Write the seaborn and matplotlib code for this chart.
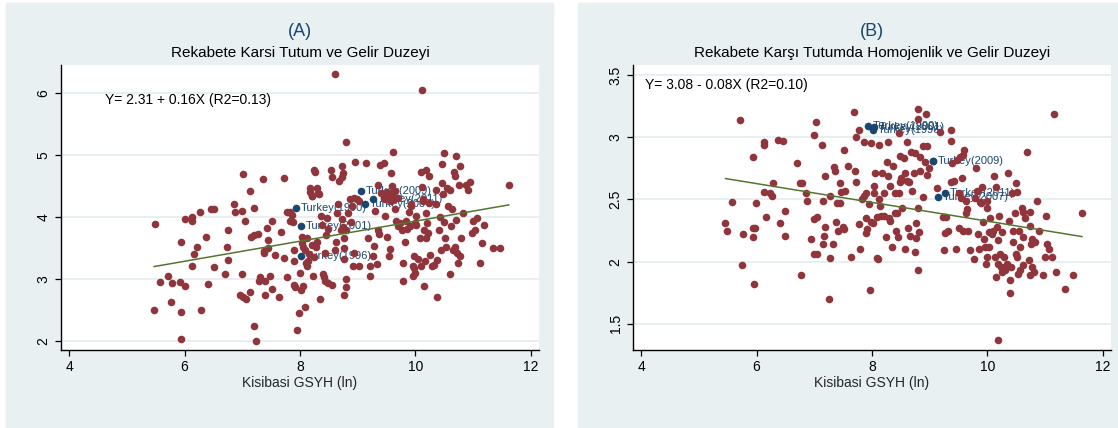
import numpy as np
import pandas as pd
import seaborn as sns
import matplotlib.pyplot as plt
from matplotlib.patches import Rectangle

# ---------------- data ----------------
# Panel A: Rekabete Karsi Tutum vs. log GDP per capita
a_x = [5.48, 5.47, 5.72, 5.58, 5.78, 5.76, 5.94, 5.94, 5.94, 6.00, 6.00, 5.93, 6.13, 6.13,
       6.16, 6.13, 6.22, 6.26, 6.28, 6.38, 6.40, 6.46, 6.51, 6.51, 6.70, 6.74, 6.76, 6.76,
       6.86, 6.87, 6.96, 6.99, 6.99, 7.02, 7.05, 7.01, 7.06, 7.14, 7.14, 7.15, 7.20, 7.20,
       7.24, 7.21, 7.27, 7.30, 7.29, 7.36, 7.37, 7.38, 7.39, 7.39, 7.43, 7.44, 7.45, 7.48,
       7.51, 7.51, 7.57, 7.63, 7.67, 7.73, 7.72, 7.77, 7.78, 7.83, 7.83, 7.86, 7.88, 7.89,
       7.90, 7.90, 7.91, 7.95, 7.99, 8.00, 8.01, 8.05, 8.08, 8.03, 8.04, 8.08, 8.10, 8.12,
       8.12, 8.14, 8.17, 8.17, 8.20, 8.21, 8.25, 8.26, 8.28, 8.30, 8.31, 8.33, 8.22, 8.35,
       8.37, 8.38, 8.40, 8.41, 8.43, 8.44, 8.45, 8.47, 8.48, 8.49, 8.55, 8.54, 8.55, 8.61,
       8.61, 8.62, 8.64, 8.66, 8.67, 8.71, 8.73, 8.73, 8.75, 8.73, 8.74, 8.76, 8.76, 8.77,
       8.77, 8.79, 8.79, 8.80, 8.80, 8.84, 8.87, 8.88, 8.90, 8.92, 8.93, 8.94, 8.96, 8.99,
       9.02, 9.02, 9.15, 9.18, 9.21, 9.22, 9.27, 9.29, 9.30, 9.33, 9.35, 9.35, 9.36, 9.39,
       9.41, 9.45, 9.47, 9.48, 9.48, 9.51, 9.54, 9.56, 9.58, 9.60, 9.61, 9.61, 9.62, 9.64,
       9.67, 9.70, 9.73, 9.76, 9.79, 9.79, 9.82, 9.84, 9.89, 9.92, 9.93, 9.95, 9.95, 9.97,
       9.98, 10.00, 10.01, 10.01, 10.05, 10.07, 10.09, 10.10, 10.11, 10.12, 10.13, 10.13,
       10.15, 10.15, 10.16, 10.18, 10.18, 10.19, 10.20, 10.21, 10.23, 10.24, 10.26, 10.29,
       10.32, 10.35, 10.36, 10.37, 10.38, 10.41, 10.42, 10.44, 10.46, 10.46, 10.48, 10.49,
       10.50, 10.52, 10.53, 10.55, 10.57, 10.59, 10.60, 10.61, 10.63, 10.65, 10.66, 10.68,
       10.69, 10.71, 10.71, 10.72, 10.73, 10.75, 10.77, 10.78, 10.79, 10.83, 10.87, 10.91,
       10.94, 10.98, 11.00, 11.03, 11.06, 11.11, 11.16, 11.18, 11.34, 11.46, 11.62,
       9.50, 9.55, 9.65, 9.70, 9.45, 9.58, 8.06, 8.15, 8.20, 8.25, 8.30, 9.85, 9.90, 10.00]
a_y = [3.89, 2.49, 3.05, 2.94, 2.93, 2.62, 2.47, 2.02, 3.59, 3.96, 2.88, 2.94, 4.00, 3.93,
       3.40, 3.21, 3.51, 4.07, 2.50, 3.67, 2.92, 4.13, 4.13, 3.19, 3.08, 3.52, 3.78, 3.31,
       4.20, 4.07, 2.73, 4.10, 3.07, 4.69, 3.94, 2.70, 2.68, 4.41, 2.78, 3.67, 4.14, 2.23,
       2.00, 3.71, 3.72, 3.03, 2.97, 4.61, 3.45, 3.42, 2.74, 2.96, 3.82, 3.63, 3.50, 3.04,
       3.93, 2.83, 3.39, 2.70, 3.75, 4.62, 3.33, 3.03, 4.07, 3.94, 4.08, 4.03, 3.91, 3.47,
       3.28, 2.90, 2.87, 2.17, 2.45, 3.10, 2.82, 2.88, 2.54, 3.67, 3.58, 3.46, 3.25, 3.20,
       3.65, 3.29, 4.47, 4.40, 4.33, 4.33, 4.76, 4.72, 3.52, 4.47, 4.39, 4.36, 3.05, 2.68,
       4.01, 3.87, 3.08, 3.03, 2.96, 3.42, 3.70, 3.98, 3.80, 2.93, 2.90, 4.76, 4.64, 6.30,
       3.46, 3.59, 4.06, 4.21, 4.57, 3.78, 4.82, 4.64, 4.71, 3.96, 3.84, 3.66, 3.49, 3.32,
       2.73, 2.99, 2.87, 5.20, 3.79, 4.06, 4.28, 3.91, 4.17, 3.20, 3.42, 4.30, 4.89, 4.28,
       4.25, 3.20, 4.87, 3.65, 3.04, 3.20, 3.36, 3.53, 4.10, 3.24, 4.52, 3.79, 3.73, 4.84,
       4.38, 4.87, 4.02, 4.33, 4.28, 3.68, 3.36, 3.48, 4.71, 4.49, 5.04, 4.38, 4.28, 4.12,
       3.93, 3.85, 3.90, 3.79, 3.25, 2.96, 3.60, 3.94, 4.07, 4.21, 4.17, 3.20, 3.04, 3.17,
       3.36, 3.10, 4.02, 3.87, 3.32, 3.66, 3.20, 4.73, 6.05, 4.48, 4.28, 4.25,
       3.79, 2.89, 3.28, 4.75, 3.65, 4.06, 3.90, 3.74, 4.66, 4.22, 3.39, 3.20,
       3.22, 4.43, 4.21, 2.70, 3.31, 3.79, 4.00, 3.47, 4.55, 4.86, 4.36, 5.03,
       3.91, 3.66, 3.52, 4.47, 4.17, 4.43, 3.08, 3.85, 4.12, 3.47, 4.73, 4.66,
       3.52, 3.95, 4.98, 3.42, 3.25, 4.52, 4.82, 3.36, 3.66, 4.06, 4.52, 4.44,
       4.56, 3.74, 3.93, 3.79, 3.98, 3.25, 3.58, 3.87, 3.50, 3.50, 4.52,
       4.40, 4.35, 4.42, 4.30, 4.30, 4.25, 3.52, 3.40, 3.55, 3.35, 3.60, 3.80, 3.85, 3.90]

a_tr_x = [7.93, 8.02, 8.02, 9.05, 9.26, 9.13]
a_tr_y = [4.14, 3.85, 3.37, 4.42, 4.29, 4.20]
a_tr_lab = ["Turkey(1990)", "Turkey(2001)", "Turkey(1996)",
            "Turkey(2009)", "Turkey(2011)", "Turkey(2007)"]

# Panel B: homogeneity of attitude vs. log GDP per capita
b_x = [5.46, 5.49, 5.58, 5.72, 5.76, 5.75, 5.94, 5.94, 5.98, 5.94, 5.95, 5.99, 6.13, 6.13,
       6.13, 6.16, 6.23, 6.27, 6.29, 6.38, 6.45, 6.41, 6.50, 6.50, 6.70, 6.76, 6.78, 6.77,
       6.85, 6.87, 6.95, 6.99, 7.03, 7.00, 6.99, 7.05, 7.04, 7.14, 7.15, 7.19, 7.19, 7.17,
       7.15, 7.25, 7.27, 7.27, 7.32, 7.34, 7.36, 7.38, 7.40, 7.41, 7.44, 7.45, 7.47, 7.50,
       7.52, 7.52, 7.53, 7.58, 7.63, 7.68, 7.70, 7.73, 7.73, 7.78, 7.78, 7.79, 7.83, 7.86,
       7.87, 7.89, 7.89, 7.90, 7.92, 7.95, 7.96, 7.99, 7.99, 8.01, 8.04, 8.04, 8.06, 8.08,
       8.09, 8.11, 8.12, 8.12, 8.14, 8.15, 8.18, 8.21, 8.21, 8.24, 8.26, 8.27, 8.27, 8.29,
       8.31, 8.32, 8.35, 8.37, 8.39, 8.40, 8.41, 8.43, 8.45, 8.46, 8.47, 8.48, 8.49, 8.51,
       8.52, 8.55, 8.57, 8.58, 8.60, 8.61, 8.63, 8.64, 8.66, 8.68, 8.69, 8.72, 8.74, 8.74,
       8.76, 8.77, 8.79, 8.79, 8.80, 8.80, 8.82, 8.83, 8.84, 8.88, 8.89, 8.92, 8.94, 8.95,
       8.96, 8.98, 9.06, 9.12, 9.17, 9.23, 9.24, 9.26, 9.29, 9.32, 9.36, 9.37, 9.36, 9.39,
       9.42, 9.46, 9.48, 9.50, 9.51, 9.52, 9.54, 9.56, 9.57, 9.58, 9.60, 9.62, 9.63, 9.65,
       9.66, 9.69, 9.76, 9.79, 9.80, 9.82, 9.83, 9.85, 9.87, 9.89, 9.91, 9.93, 9.94, 9.96,
       9.97, 9.99, 9.99, 10.00, 10.02, 10.03, 10.05, 10.08, 10.10, 10.12, 10.13, 10.14,
       10.14, 10.16, 10.18, 10.19, 10.19, 10.20, 10.22, 10.24, 10.25, 10.26, 10.28, 10.30,
       10.31, 10.34, 10.36, 10.37, 10.39, 10.39, 10.40, 10.42, 10.44, 10.45, 10.47, 10.49,
       10.50, 10.51, 10.52, 10.53, 10.55, 10.56, 10.57, 10.61, 10.62, 10.59, 10.61, 10.65,
       10.68, 10.72, 10.74, 10.74, 10.74, 10.76, 10.78, 10.78, 10.81, 10.83, 10.86, 10.90,
       10.96, 11.01, 11.04, 11.07, 11.12, 10.99, 11.16, 11.19, 11.35, 11.49, 11.64]
b_y = [2.31, 2.25, 2.48, 3.14, 2.22, 1.97, 2.84, 2.27, 2.27, 2.20, 1.82, 2.47, 2.96, 2.94,
       2.56, 2.36, 2.55, 2.53, 2.63, 2.98, 2.97, 2.31, 2.41, 2.21, 2.79, 2.63, 2.63, 1.89,
       2.55, 2.49, 2.18, 2.34, 3.12, 3.02, 2.06, 2.06, 2.36, 2.94, 2.49, 2.69, 2.28, 2.21,
       2.14, 1.70, 2.53, 2.03, 2.14, 2.76, 2.73, 2.32, 2.47, 2.25, 2.63, 2.47, 2.56, 2.28,
       2.26, 2.90, 2.57, 2.77, 2.04, 3.20, 2.73, 2.64, 3.00, 3.06, 2.30, 2.10, 2.50, 2.96,
       2.53, 2.55, 2.23, 2.35, 2.26, 2.46, 1.77, 2.95, 2.32, 2.31, 2.55, 2.61, 2.71, 2.36,
       2.03, 2.02, 2.94, 2.50, 2.45, 2.37, 2.71, 2.55, 2.37, 2.20, 2.80, 2.96, 2.69, 2.35,
       2.61, 2.33, 2.12, 2.77, 2.55, 2.39, 2.25, 2.39, 2.20, 3.03, 2.55, 2.85, 2.64, 2.67,
       2.43, 2.83, 2.10, 2.71, 2.65, 2.96, 2.27, 2.64, 2.21, 2.88, 2.57, 2.71, 2.08, 2.87,
       2.31, 2.19, 2.43, 1.93, 3.23, 3.15, 2.24, 2.73, 2.84, 2.93, 2.52, 2.80, 3.19, 2.93,
       2.70, 2.75, 2.81, 2.59, 3.04, 2.36, 2.09, 2.23, 2.36, 2.25, 3.06, 2.97, 2.64, 2.79,
       2.65, 2.10, 2.82, 2.27, 2.55, 2.84, 2.51, 2.67, 2.86, 2.25, 2.90, 2.39, 2.49, 2.42,
       2.25, 2.09, 2.02, 2.51, 2.75, 2.57, 2.22, 2.10, 2.48, 2.47, 2.60, 2.32, 2.18, 2.12,
       1.98, 2.43, 2.49, 2.04, 2.24, 2.12, 2.35, 2.22, 2.25, 2.69, 2.04, 2.60,
       1.88, 2.28, 1.98, 2.17, 1.37, 2.37, 2.06, 1.96, 1.92, 2.24, 2.04, 1.96,
       1.93, 1.98, 2.71, 2.33, 1.85, 1.75, 1.96, 2.55, 2.25, 2.16, 2.39, 2.06,
       2.63, 2.56, 2.04, 1.90, 2.25, 2.12, 1.93, 1.97, 2.20, 2.43, 2.40, 2.35,
       2.88, 2.01, 2.29, 2.40, 1.89, 2.14, 1.96, 2.18, 1.92, 2.16, 2.49, 2.25,
       1.89, 2.37, 2.14, 2.10, 2.04, 2.04, 3.19, 1.92, 1.78, 1.89, 2.39]

b_tr_x = [7.93, 8.03, 8.01, 9.05, 9.26, 9.14]
b_tr_y = [3.09, 3.08, 3.06, 2.81, 2.55, 2.52]
b_tr_lab = ["Turkey(1990)", "Turkey(2001)", "Turkey(1996)",
            "Turkey(2009)", "Turkey(2011)", "Turkey(2007)"]

# fitted lines (coefficients from the annotations)
a_fit = (2.31, 0.162)
b_fit = (3.08, -0.0755)
a_eq = "Y= 2.31 + 0.16X (R2=0.13)"
b_eq = "Y= 3.08 - 0.08X (R2=0.10)"

x_ticks = [4, 6, 8, 10, 12]
a_yticks = [2, 3, 4, 5, 6]
b_yticks = [1.5, 2, 2.5, 3, 3.5]
b_ytick_labels = ["1.5", "2", "2.5", "3", "3.5"]

# ---------------- style ----------------
sns.set_theme(style="ticks")
plt.rcParams['font.family'] = ['Liberation Sans', 'DejaVu Sans']

bg_color = "#e8f0f2"
grid_color = "#e4ecee"
red = "#90353b"
navy = "#1a476f"
green = "#55752f"

fig = plt.figure(figsize=(11.18, 4.28), dpi=100)
W, H = 1118, 428

# panel backgrounds (light blue-grey boxes)
fig.patches.append(Rectangle((6 / W, 0), (553 - 6) / W, 1 - 3 / H,
                             transform=fig.transFigure, color=bg_color, zorder=-10))
fig.patches.append(Rectangle((578 / W, 0), (1118 - 578) / W, 1 - 3 / H,
                             transform=fig.transFigure, color=bg_color, zorder=-10))


def panel(left_px, x, y, trx, try_, trlab, fit, eq, eq_pos, yticks, ylabels, ylim,
          letter, subtitle):
    ax = fig.add_axes([left_px / W, (H - 350) / H, 478 / W, 285 / H])
    ax.set_facecolor("white")

    df = pd.DataFrame({"x": x, "y": y})
    tr = pd.DataFrame({"x": trx, "y": try_, "lab": trlab})

    # Turkey labels sit under the other points
    for _, r in tr.iterrows():
        ax.annotate(r["lab"], (r["x"], r["y"]), xytext=(3.5, 0), textcoords="offset points",
                    ha="left", va="center", fontsize=8, color=navy, zorder=2)
    sns.scatterplot(data=df, x="x", y="y", ax=ax, color=red, s=30, linewidth=0, zorder=3)
    sns.scatterplot(data=tr, x="x", y="y", ax=ax, color=navy, s=30, linewidth=0, zorder=4)

    xs = np.array([min(x), max(x)])
    fit_df = pd.DataFrame({"x": xs, "y": fit[0] + fit[1] * xs})
    sns.lineplot(data=fit_df, x="x", y="y", ax=ax, color=green, linewidth=1.1, zorder=5)

    ax.text(eq_pos[0], eq_pos[1], eq, ha="left", va="center", fontsize=10, color="black")

    ax.set_xlim(3.86, 12.14)
    ax.set_ylim(*ylim)
    ax.set_xticks(x_ticks)
    ax.set_yticks(yticks)
    ax.set_yticklabels(ylabels, rotation=90, va="center")
    ax.yaxis.grid(True, color=grid_color, linewidth=1.2)
    ax.set_axisbelow(True)
    for s in ["top", "right"]:
        ax.spines[s].set_visible(False)
    for s in ["left", "bottom"]:
        ax.spines[s].set_color("black")
        ax.spines[s].set_linewidth(1.0)
    ax.tick_params(axis="both", direction="out", length=4.5, width=0.9,
                   labelsize=10, colors="black", pad=3)
    ax.set_xlabel("Kisibasi GSYH (ln)", fontsize=10, labelpad=1)
    ax.set_ylabel("")

    cx = (left_px + 239) / W
    fig.text(cx, 1 - 32 / H, letter, ha="center", va="center", fontsize=13, color=navy)
    fig.text(cx, 1 - 53 / H, subtitle, ha="center", va="center", fontsize=11, color="black")
    return ax


panel(61, a_x, a_y, a_tr_x, a_tr_y, a_tr_lab, a_fit, a_eq, (4.63, 5.89),
      a_yticks, [str(t) for t in a_yticks], (1.85, 6.45),
      "(A)", "Rekabete Karsi Tutum ve Gelir Duzeyi")
panel(633, b_x, b_y, b_tr_x, b_tr_y, b_tr_lab, b_fit, b_eq, (4.07, 3.42),
      b_yticks, b_ytick_labels, (1.29, 3.58),
      "(B)", "Rekabete Karşı Tutumda Homojenlik ve Gelir Duzeyi")

fig.savefig("out.png", dpi=100, facecolor="white")
